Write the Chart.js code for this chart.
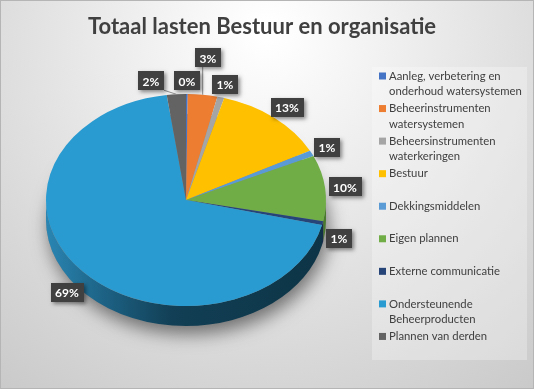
<!DOCTYPE html>
<html>
<head>
<meta charset="utf-8">
<script src="https://cdn.jsdelivr.net/npm/chart.js@4.4.0/dist/chart.umd.min.js"></script>
<style>
	html, body { margin: 0; padding: 0; background: #fff; }
</style>
</head>
<body>
<canvas id="pie-chartcanvas-1" width="534" height="389"></canvas>
<script>
var chartTitle = "Totaal lasten Bestuur en organisatie";

var categories = [
	"Aanleg, verbetering en onderhoud watersystemen",
	"Beheerinstrumenten watersystemen",
	"Beheersinstrumenten waterkeringen",
	"Bestuur",
	"Dekkingsmiddelen",
	"Eigen plannen",
	"Externe communicatie",
	"Ondersteunende Beheerproducten",
	"Plannen van derden"
];

// share of total lasten, in percent
var values = [0.2, 3.4, 0.8, 12.9, 0.9, 10.0, 0.6, 69.0, 2.2];

var colors = ["#4472C4", "#ED7D31", "#A5A5A5", "#FFC000", "#5B9BD5", "#70AD47", "#264478", "#2A9BD0", "#636363"];
var sideColors = ["#2b4b82", "#a3521c", "#6f6f6f", "#b38600", "#3b6e9c", "#4a7a2d", "#15294a", "#123f55", "#3c3c3c"];

// pie geometry (top face ellipse) and tilt
var pieX = 186, pieY = 200, pieR = 140, pieRy = 106, pieDepth = 20;
var tilt = pieRy / pieR;

var W = 534, H = 389;
var textFont = "Lato, 'Open Sans', sans-serif";

function drawBackground(ctx) {
	var g = ctx.createRadialGradient(267, 30, 10, 267, 60, 470);
	g.addColorStop(0, "#ffffff");
	g.addColorStop(0.45, "#e4e4e4");
	g.addColorStop(1, "#c4c4c4");
	ctx.fillStyle = g;
	ctx.fillRect(0, 0, W, H);
	ctx.strokeStyle = "#b5b5b5";
	ctx.lineWidth = 1;
	ctx.strokeRect(0.5, 0.5, W - 1, H - 1);

	ctx.fillStyle = "#404040";
	ctx.font = "bold 22px " + textFont;
	ctx.textAlign = "center";
	ctx.textBaseline = "middle";
	ctx.fillText(chartTitle, 262, 27);
}

function wrapText(ctx, text, maxW) {
	var words = text.split(" "), lines = [], cur = "";
	for (var i = 0; i < words.length; i++) {
		var test = cur ? cur + " " + words[i] : words[i];
		if (ctx.measureText(test).width > maxW && cur) {
			lines.push(cur);
			cur = words[i];
		} else {
			cur = test;
		}
	}
	lines.push(cur);
	return lines;
}

function drawLegend(ctx) {
	var left = 372, top = 67, right = 527, bottom = 360;
	ctx.fillStyle = "rgba(255,255,255,0.28)";
	ctx.fillRect(left, top, right - left, bottom - top);

	var itemH = (bottom - top) / categories.length;
	ctx.font = "11.3px " + textFont;
	ctx.textAlign = "left";
	ctx.textBaseline = "middle";
	for (var i = 0; i < categories.length; i++) {
		var y = top + i * itemH + 9;
		ctx.fillStyle = colors[i];
		ctx.fillRect(379, y - 3.5, 7, 7);
		ctx.fillStyle = "#404040";
		var lines = wrapText(ctx, categories[i], 134);
		for (var j = 0; j < lines.length; j++) {
			ctx.fillText(lines[j], 389, y + j * 15.5);
		}
	}
}

function boxesOverlap(a, b) {
	return a.x - a.w / 2 < b.x + b.w / 2 + 2 && a.x + a.w / 2 + 2 > b.x - b.w / 2 &&
		a.y - a.h / 2 < b.y + b.h / 2 + 2 && a.y + a.h / 2 + 2 > b.y - b.h / 2;
}

function drawLabels(chart) {
	var ctx = chart.ctx;
	var arcs = chart.getDatasetMeta(0).data;
	var total = values.reduce(function (s, v) { return s + v; }, 0);
	var placed = [];

	ctx.font = "bold 12px " + textFont;
	for (var i = 0; i < arcs.length; i++) {
		var arc = arcs[i];
		var mid = (arc.startAngle + arc.endAngle) / 2;
		var ux = Math.cos(mid), uy = Math.sin(mid);
		var px = arc.x + arc.outerRadius * ux;
		var py = arc.y + arc.outerRadius * tilt * uy + (uy > 0 ? pieDepth * 0.6 : 0);
		var text = Math.round(values[i] / total * 100) + "%";
		var w = ctx.measureText(text).width + 9, h = 19, gap = 4;
		var box = { x: px + ux * (w / 2 + gap), y: py + uy * (h / 2 + gap), w: w, h: h, text: text, px: px, py: py, moved: false };
		// near the top, a label that runs into an earlier one is pushed out along the rim
		var tx = ux < 0 ? -1 : 0, ty = ux < 0 ? 0 : -1;
		var guard = 0;
		while (guard < 40 && placed.some(function (b) { return boxesOverlap(box, b); })) {
			box.x += (ux < 0 ? tx : ux) * 2;
			box.y += (ux < 0 ? ty : uy) * 2;
			box.moved = true;
			guard++;
		}
		if (box.moved && ux < 0) box.x -= 8;
		placed.push(box);
	}

	placed.forEach(function (b) {
		if (!b.moved) return;
		ctx.save();
		ctx.strokeStyle = "#8c8c8c";
		ctx.lineWidth = 1;
		ctx.beginPath();
		var ex = Math.max(b.x - b.w / 2, Math.min(b.px, b.x + b.w / 2));
		var ey = Math.max(b.y - b.h / 2, Math.min(b.py, b.y + b.h / 2));
		ctx.moveTo(ex, ey);
		ctx.lineTo(b.px, b.py);
		ctx.stroke();
		ctx.restore();
	});

	placed.forEach(function (b) {
		ctx.save();
		ctx.shadowColor = "rgba(0,0,0,0.45)";
		ctx.shadowBlur = 4;
		ctx.shadowOffsetX = 2;
		ctx.shadowOffsetY = 2;
		ctx.fillStyle = "#404040";
		ctx.fillRect(Math.round(b.x - b.w / 2), Math.round(b.y - b.h / 2), Math.round(b.w), b.h);
		ctx.restore();
		ctx.fillStyle = "#ffffff";
		ctx.font = "bold 12px " + textFont;
		ctx.textAlign = "center";
		ctx.textBaseline = "middle";
		ctx.fillText(b.text, Math.round(b.x), Math.round(b.y) + 1);
	});
}

var pie3d = {
	id: "pie3d",
	beforeDraw: function (chart) {
		drawBackground(chart.ctx);
		drawLegend(chart.ctx);
	},
	beforeDatasetsDraw: function (chart) {
		var ctx = chart.ctx;
		var arcs = chart.getDatasetMeta(0).data;
		var cx = arcs[0].x, cy = arcs[0].y, r = arcs[0].outerRadius, ry = r * tilt;

		// soft shadow under the pie
		ctx.save();
		ctx.shadowColor = "rgba(0,0,0,0.5)";
		ctx.shadowBlur = 18;
		ctx.shadowOffsetX = 3;
		ctx.shadowOffsetY = 8;
		ctx.fillStyle = "#8a8a8a";
		ctx.beginPath();
		ctx.ellipse(cx, cy + pieDepth, r, ry, 0, 0, Math.PI * 2);
		ctx.fill();
		ctx.restore();

		// side walls of the front half
		for (var i = 0; i < arcs.length; i++) {
			var a0 = Math.max(arcs[i].startAngle, 0);
			var a1 = Math.min(arcs[i].endAngle, Math.PI);
			if (a1 <= a0) continue;
			ctx.beginPath();
			ctx.ellipse(cx, cy, r, ry, 0, a0, a1, false);
			ctx.lineTo(cx + r * Math.cos(a1), cy + ry * Math.sin(a1) + pieDepth);
			ctx.ellipse(cx, cy + pieDepth, r, ry, 0, a1, a0, true);
			ctx.closePath();
			if (i === 7) {
				var g = ctx.createLinearGradient(cx - r, 0, cx + r, 0);
				g.addColorStop(0, "#2a86b3");
				g.addColorStop(0.2, "#1d6386");
				g.addColorStop(0.45, "#123f55");
				g.addColorStop(1, "#0d3446");
				ctx.fillStyle = g;
			} else {
				ctx.fillStyle = sideColors[i];
			}
			ctx.fill();
		}

		// squash the flat pie into the tilted top face
		ctx.save();
		ctx.translate(cx, cy);
		ctx.scale(1, tilt);
		ctx.translate(-cx, -cy);
	},
	afterDatasetsDraw: function (chart) {
		chart.ctx.restore();
	},
	afterDraw: function (chart) {
		drawLabels(chart);
	}
};

var ctx1 = document.getElementById("pie-chartcanvas-1");

var data1 = {
	labels: categories,
	datasets: [
		{
			label: chartTitle,
			data: values,
			backgroundColor: colors,
			borderWidth: 0,
			clip: false
		}
	]
};

var options = {
	responsive: false,
	animation: false,
	devicePixelRatio: 1,
	layout: {
		padding: {
			left: pieX - pieR,
			right: W - pieX - pieR,
			top: pieY - pieR,
			bottom: H - pieY - pieR
		}
	},
	plugins: {
		legend: { display: false },
		title: { display: false },
		tooltip: { enabled: false }
	}
};

var chart1 = new Chart(ctx1, {
	type: "pie",
	data: data1,
	options: options,
	plugins: [pie3d]
});
</script>
</body>
</html>
